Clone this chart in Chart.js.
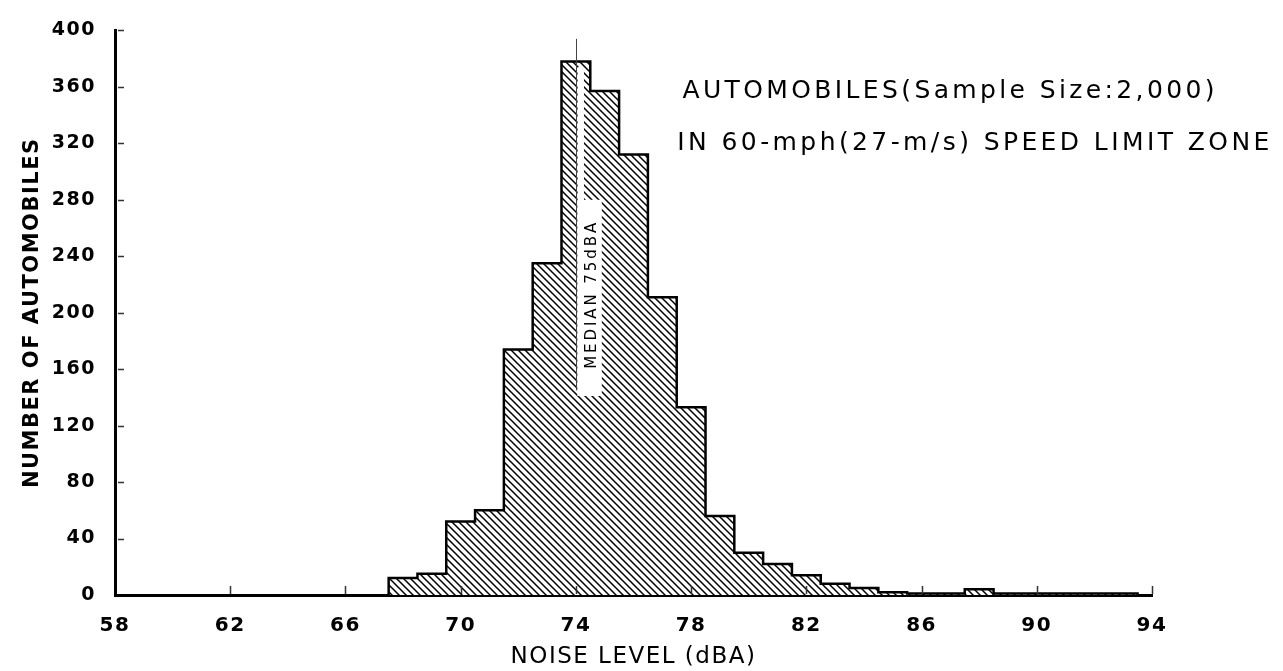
<!DOCTYPE html>
<html>
<head>
<meta charset="utf-8">
<script src="https://cdn.jsdelivr.net/npm/chart.js@4.4.1/dist/chart.umd.min.js"></script>
<style>
    html, body { margin: 0; padding: 0; background: #fff; }
</style>
</head>
<body>
<canvas id="noise_chart" width="1283" height="671"></canvas>
<script>
/*--------------------------------------------------------------------------------
----- NOISE LEVEL HISTOGRAM (automobiles in a 60-mph speed limit zone)
--------------------------------------------------------------------------------*/

// Bin centres (dBA) and number of automobiles read in each 1-dBA bin
var noise_levels = [68, 69, 70, 71, 72, 73, 74, 75, 76, 77, 78, 79, 80,
                    81, 82, 83, 84, 85, 86, 87, 88, 89, 90, 91, 92, 93];
var automobile_counts = [12, 15, 52, 60, 174, 235, 378, 357, 312, 211, 133, 56, 30,
                         22, 14, 8, 5, 2, 1, 1, 4, 1, 1, 1, 1, 1];

// Axis tick labels
var x_ticks = [58, 62, 66, 70, 74, 78, 82, 86, 90, 94];
var y_ticks = [0, 40, 80, 120, 160, 200, 240, 280, 320, 360, 400];

// Median marker and the note in the upper right
var median_level = 74;
var median_label = 'MEDIAN 75dBA';
var note_lines = ['AUTOMOBILES(Sample Size:2,000)', 'IN 60-mph(27-m/s) SPEED LIMIT ZONE'];

var font_family = '"DejaVu Sans", sans-serif';

// Diagonal hatching used to fill the bars
function make_hatch(context) {
    var size = 7;
    var tile = document.createElement('canvas');
    tile.width = size;
    tile.height = size;
    var g = tile.getContext('2d');
    g.fillStyle = '#fff';
    g.fillRect(0, 0, size, size);
    g.strokeStyle = '#000';
    g.lineWidth = 1.5;
    g.beginPath();
    g.moveTo(-1, -1); g.lineTo(size + 1, size + 1);
    g.moveTo(-1, size - 1); g.lineTo(1, size + 1);
    g.moveTo(size - 1, -1); g.lineTo(size + 1, 1);
    g.stroke();
    return context.createPattern(tile, 'repeat');
}

// Writes a line of text spread so that it covers the given width
function draw_spaced(ctx, text, x, y, width) {
    var widths = [], plain = 0;
    for (var i = 0; i < text.length; i++) {
        widths.push(ctx.measureText(text[i]).width);
        plain += widths[i];
    }
    var gap = (width - plain) / (text.length - 1);
    for (var j = 0; j < text.length; j++) {
        ctx.fillText(text[j], x, y);
        x += widths[j] + gap;
    }
}

// Step outline around the histogram, built from the bins
var outline = [{x: noise_levels[0] - 0.5, y: 0}];
noise_levels.forEach(function (level, i) {
    outline.push({x: level - 0.5, y: automobile_counts[i]});
    outline.push({x: level + 0.5, y: automobile_counts[i]});
});
outline.push({x: noise_levels[noise_levels.length - 1] + 0.5, y: 0});

var bars = noise_levels.map(function (level, i) {
    return {x: level, y: automobile_counts[i]};
});

var histogram_extras = {
    id: 'histogram_extras',
    beforeDraw: function (chart) {
        chart.ctx.letterSpacing = '1.5px';
    },
    afterDatasetDraw: function (chart, args) {
        if (args.index !== 1) return;
        // clear the hatching beside the median line, before the outline is drawn
        var x = chart.scales.x, y = chart.scales.y, ctx = chart.ctx;
        ctx.save();
        ctx.fillStyle = '#fff';
        var left = x.getPixelForValue(median_level + 0.06);
        ctx.fillRect(left, y.getPixelForValue(374), x.getPixelForValue(median_level + 0.28) - left,
                     y.getPixelForValue(141) - y.getPixelForValue(374));
        ctx.fillRect(left, y.getPixelForValue(280), x.getPixelForValue(median_level + 0.9) - left,
                     y.getPixelForValue(141) - y.getPixelForValue(280));
        ctx.restore();
    },
    afterDatasetsDraw: function (chart) {
        var x = chart.scales.x, y = chart.scales.y, ctx = chart.ctx;
        ctx.save();
        ctx.letterSpacing = '0px';
        // median line
        var mx = Math.round(x.getPixelForValue(median_level)) + 0.5;
        ctx.strokeStyle = '#444';
        ctx.lineWidth = 1;
        ctx.beginPath();
        ctx.moveTo(mx, y.getPixelForValue(394));
        ctx.lineTo(mx, y.getPixelForValue(145));
        ctx.stroke();
        // median label, written upwards
        ctx.fillStyle = '#000';
        ctx.font = '15px ' + font_family;
        ctx.textBaseline = 'middle';
        ctx.textAlign = 'left';
        ctx.translate(x.getPixelForValue(median_level + 0.58), y.getPixelForValue(212));
        ctx.rotate(-Math.PI / 2);
        draw_spaced(ctx, median_label, -73, 0, 146);
        ctx.restore();
    },
    afterDraw: function (chart) {
        var x = chart.scales.x, y = chart.scales.y, ctx = chart.ctx, area = chart.chartArea;
        ctx.save();
        ctx.letterSpacing = '0px';
        // short tick marks inside the plot
        ctx.strokeStyle = '#333';
        ctx.lineWidth = 1.5;
        ctx.beginPath();
        y_ticks.forEach(function (v) {
            if (v === 0) return;
            var py = Math.round(y.getPixelForValue(v)) + 0.5;
            ctx.moveTo(area.left + 3, py);
            ctx.lineTo(area.left + 9, py);
        });
        x_ticks.forEach(function (v) {
            if (v === x_ticks[0]) return;
            var px = Math.round(x.getPixelForValue(v)) + 0.5;
            ctx.moveTo(px, area.bottom - 1);
            ctx.lineTo(px, area.bottom - 9);
        });
        ctx.stroke();
        // note in the upper right
        ctx.fillStyle = '#000';
        ctx.font = '25px ' + font_family;
        ctx.textBaseline = 'middle';
        ctx.textAlign = 'left';
        draw_spaced(ctx, note_lines[0], x.getPixelForValue(77.7), y.getPixelForValue(357), 532);
        draw_spaced(ctx, note_lines[1], x.getPixelForValue(77.52), y.getPixelForValue(320), 592);
        ctx.restore();
    }
};

var context = document.getElementById('noise_chart').getContext('2d');

var histogram = new Chart(context, {
    type: 'bar',
    data: {
        datasets: [{
            type: 'line',
            data: outline,
            borderColor: '#000',
            borderWidth: 2.5,
            pointRadius: 0,
            fill: false,
            tension: 0,
            order: 0
        }, {
            type: 'bar',
            data: bars,
            backgroundColor: make_hatch(context),
            borderWidth: 0,
            barPercentage: 1,
            categoryPercentage: 1,
            order: 1
        }]
    },
    options: {
        responsive: false,
        animation: false,
        layout: { padding: { top: 14, right: 131, left: 0, bottom: 0 } },
        plugins: {
            legend: { display: false },
            tooltip: { enabled: false }
        },
        scales: {
            x: {
                type: 'linear',
                min: 58,
                max: 94,
                offset: false,
                afterBuildTicks: function (scale) {
                    scale.ticks = x_ticks.map(function (v) { return {value: v}; });
                },
                afterFit: function (scale) { scale.height = 76; },
                grid: { display: false, drawTicks: false, offset: false },
                border: { display: true, color: '#000', width: 3 },
                ticks: {
                    color: '#000',
                    padding: 19,
                    maxRotation: 0,
                    font: { family: font_family, size: 20, weight: 'bold' }
                },
                title: {
                    display: true,
                    text: 'NOISE LEVEL (dBA)',
                    color: '#000',
                    padding: { top: 0, bottom: 0 },
                    font: { family: font_family, size: 23 }
                }
            },
            y: {
                min: 0,
                max: 400,
                afterBuildTicks: function (scale) {
                    scale.ticks = y_ticks.map(function (v) { return {value: v}; });
                },
                afterFit: function (scale) { scale.width = 115; },
                grid: { display: false, drawTicks: false },
                border: { display: true, color: '#000', width: 3 },
                ticks: {
                    color: '#000',
                    padding: 19,
                    font: { family: font_family, size: 19, weight: 'bold' }
                },
                title: {
                    display: true,
                    text: 'NUMBER OF AUTOMOBILES',
                    color: '#000',
                    padding: { top: 20, bottom: 0 },
                    font: { family: font_family, size: 21, weight: 'bold' }
                }
            }
        }
    },
    plugins: [histogram_extras]
});
</script>
</body>
</html>
